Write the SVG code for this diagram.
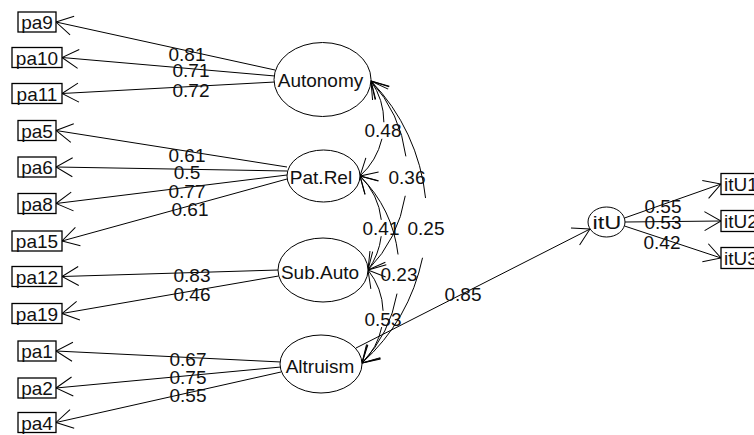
<svg xmlns="http://www.w3.org/2000/svg" width="754" height="435" viewBox="0 0 754 435">
<style>
.bx{fill:#fff;stroke:#000;stroke-width:1.3}
.el{fill:#fff;stroke:#000;stroke-width:1}
.t{font-family:"Liberation Sans",Arial,sans-serif;font-size:19px;fill:#111;text-anchor:middle}
.ln{fill:none;stroke:#000;stroke-width:1;marker-end:url(#ah)}
.cv{fill:none;stroke:#000;stroke-width:1;marker-start:url(#ah);marker-end:url(#ah)}
</style>
<defs>
<marker id="ah" markerUnits="userSpaceOnUse" markerWidth="40" markerHeight="40" viewBox="-20 -20 40 40" refX="0" refY="0" orient="auto-start-reverse" overflow="visible">
<path d="M-16.5,-9.5 L0,0 L-16.5,9.5" fill="none" stroke="#000" stroke-width="1"/>
</marker>
</defs>
<rect width="754" height="435" fill="#fff"/>
<g id="connectors">
<line class="ln" x1="275" y1="70" x2="56" y2="22"/>
<line class="ln" x1="275" y1="76" x2="62" y2="57.5"/>
<line class="ln" x1="275" y1="82" x2="62" y2="93.5"/>
<line class="ln" x1="287" y1="167" x2="56" y2="130.5"/>
<line class="ln" x1="287" y1="171" x2="56" y2="167"/>
<line class="ln" x1="287" y1="175" x2="56" y2="203.5"/>
<line class="ln" x1="287" y1="179" x2="62" y2="241"/>
<line class="ln" x1="278.5" y1="270" x2="62" y2="276.5"/>
<line class="ln" x1="278.5" y1="276" x2="62" y2="313.5"/>
<line class="ln" x1="281" y1="362" x2="56" y2="351"/>
<line class="ln" x1="281" y1="367" x2="56" y2="388"/>
<line class="ln" x1="281" y1="372" x2="56" y2="422.5"/>
<line class="ln" x1="356" y1="348" x2="590" y2="229"/>
<line class="ln" x1="624.5" y1="218" x2="721" y2="184"/>
<line class="ln" x1="625" y1="222" x2="721" y2="221"/>
<line class="ln" x1="624.5" y1="226" x2="721" y2="258"/>
<path class="cv" d="M371,81 A72.52,72.52 0 0 1 383.86,122.24 M381.95,138.79 A72.52,72.52 0 0 1 360,176"/>
<path class="cv" d="M371,81 A137.84,137.84 0 0 1 405.89,156.37 M405.26,195.79 A137.84,137.84 0 0 1 368,270"/>
<path class="cv" d="M371,81 A197.02,197.02 0 0 1 425.54,198.03 M422.54,257.76 A197.02,197.02 0 0 1 362,363"/>
<path class="cv" d="M360,176 A72.32,72.32 0 0 1 381.28,219.82 M381.19,236.22 A72.32,72.32 0 0 1 368,270"/>
<path class="cv" d="M360,176 A134.05,134.05 0 0 1 398.05,254.49 M397,293.64 A134.05,134.05 0 0 1 362,363"/>
<path class="cv" d="M368,270 A69.32,69.32 0 0 1 383.07,310.82 M381.71,327.08 A69.32,69.32 0 0 1 362,363"/>
<text class="t" x="187" y="60.5">0.81</text>
<text class="t" x="191" y="77">0.71</text>
<text class="t" x="191" y="97">0.72</text>
<text class="t" x="187" y="162">0.61</text>
<text class="t" x="187" y="178.5">0.5</text>
<text class="t" x="187" y="198">0.77</text>
<text class="t" x="190" y="215.5">0.61</text>
<text class="t" x="192" y="282">0.83</text>
<text class="t" x="192" y="300.5">0.46</text>
<text class="t" x="188" y="365.5">0.67</text>
<text class="t" x="188" y="383.5">0.75</text>
<text class="t" x="188" y="402">0.55</text>
<text class="t" x="383" y="137">0.48</text>
<text class="t" x="407" y="184">0.36</text>
<text class="t" x="426" y="235">0.25</text>
<text class="t" x="381" y="235">0.41</text>
<text class="t" x="399" y="281">0.23</text>
<text class="t" x="383" y="326">0.53</text>
<text class="t" x="463" y="301">0.85</text>
<text class="t" x="663" y="213">0.55</text>
<text class="t" x="663" y="228.5">0.53</text>
<text class="t" x="662" y="248.5">0.42</text>
</g>
<g id="pa9"><rect class="bx" x="18" y="12" width="38" height="20"/><text class="t" x="37" y="29">pa9</text></g>
<g id="pa10"><rect class="bx" x="12" y="47.5" width="50" height="20"/><text class="t" x="37" y="64.5">pa10</text></g>
<g id="pa11"><rect class="bx" x="12" y="83.5" width="50" height="20"/><text class="t" x="37" y="100.5">pa11</text></g>
<g id="pa5"><rect class="bx" x="18" y="120.5" width="38" height="20"/><text class="t" x="37" y="137.5">pa5</text></g>
<g id="pa6"><rect class="bx" x="18" y="157" width="38" height="20"/><text class="t" x="37" y="174">pa6</text></g>
<g id="pa8"><rect class="bx" x="18" y="193.5" width="38" height="20"/><text class="t" x="37" y="210.5">pa8</text></g>
<g id="pa15"><rect class="bx" x="12" y="231" width="50" height="20"/><text class="t" x="37" y="248">pa15</text></g>
<g id="pa12"><rect class="bx" x="12" y="266.5" width="50" height="20"/><text class="t" x="37" y="283.5">pa12</text></g>
<g id="pa19"><rect class="bx" x="12" y="303.5" width="50" height="20"/><text class="t" x="37" y="320.5">pa19</text></g>
<g id="pa1"><rect class="bx" x="18" y="341" width="38" height="20"/><text class="t" x="37" y="358">pa1</text></g>
<g id="pa2"><rect class="bx" x="18" y="378" width="38" height="20"/><text class="t" x="37" y="395">pa2</text></g>
<g id="pa4"><rect class="bx" x="18" y="412.5" width="38" height="20"/><text class="t" x="37" y="429.5">pa4</text></g>
<g id="Autonomy"><ellipse class="el" cx="322.5" cy="79.5" rx="48.5" ry="37"/><text class="t" x="320.5" y="87">Autonomy</text></g>
<g id="Pat.Rel"><ellipse class="el" cx="323.5" cy="176" rx="36.5" ry="26"/><text class="t" x="321" y="183.5">Pat.Rel</text></g>
<g id="Sub.Auto"><ellipse class="el" cx="323" cy="270" rx="45" ry="32"/><text class="t" x="320" y="279">Sub.Auto</text></g>
<g id="Altruism"><ellipse class="el" cx="321" cy="364" rx="41" ry="29"/><text class="t" x="320" y="373">Altruism</text></g>
<g id="itU"><ellipse class="el" cx="606.5" cy="222" rx="18.5" ry="15"/><text class="t" x="607" y="229" textLength="29" lengthAdjust="spacingAndGlyphs">itU</text></g>
<g id="itU1"><rect class="bx" x="721" y="173.5" width="40" height="21"/><text class="t" x="741" y="191">itU1</text></g>
<g id="itU2"><rect class="bx" x="721" y="210.5" width="40" height="21"/><text class="t" x="741" y="228">itU2</text></g>
<g id="itU3"><rect class="bx" x="721" y="247.5" width="40" height="21"/><text class="t" x="741" y="265">itU3</text></g>
</svg>
